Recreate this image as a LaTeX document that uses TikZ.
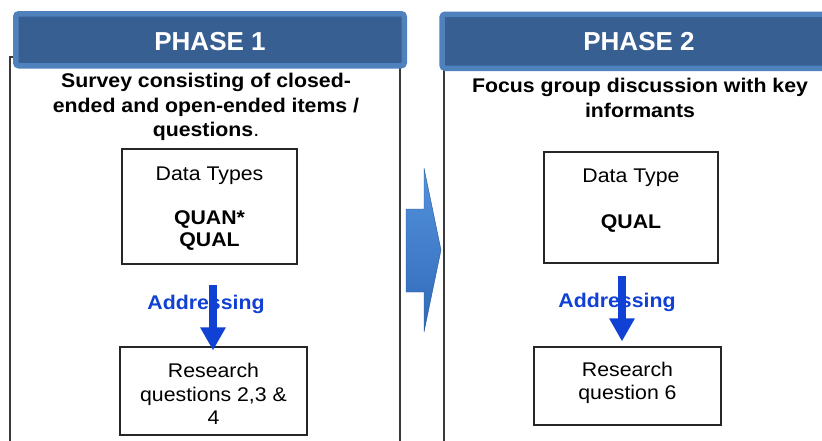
\documentclass[tikz,border=0pt]{standalone}
\usepackage{fontspec}
\setmainfont{Liberation Sans}[FakeStretch=1.075]
\newfontfamily\headfont{Liberation Sans}
\usetikzlibrary{arrows.meta}
\definecolor{hdrfill}{HTML}{375F92}
\definecolor{hdredge}{HTML}{4F81BD}
\definecolor{addrblue}{HTML}{1040D4}
\definecolor{panelline}{HTML}{3A3A3A}
\definecolor{arrowtop}{HTML}{5592DD}
\definecolor{arrowbot}{HTML}{2F6AB8}
\begin{document}
\begin{tikzpicture}[x=1pt,y=-1pt,
  panel/.style={draw=panelline,line width=1.3pt},
  header/.style={draw=hdredge,fill=hdrfill,line width=5.5pt,rounded corners=3pt,inner sep=0pt},
  headtext/.style={text=white,inner sep=0pt,font=\headfont\bfseries\fontsize{26}{30}\selectfont},
  title/.style={align=center,inner sep=0pt,font=\bfseries\fontsize{19.8}{24.5}\selectfont},
  databox/.style={draw=black!85,line width=1.1pt,inner sep=0pt},
  boxtext/.style={align=center,inner sep=0pt,font=\fontsize{19.8}{22}\selectfont},
  rqtext/.style={align=center,inner sep=0pt,font=\fontsize{19.8}{23.5}\selectfont},
  addrlabel/.style={text=addrblue,inner sep=0pt,font=\bfseries\fontsize{19.8}{22}\selectfont},
  addr/.style={draw=addrblue,line width=8pt,-{Triangle[width=24pt,length=23pt]}}
]
\useasboundingbox (0,0) rectangle (822,440);
\clip (0,0) rectangle (822,440);

% panel frames
\draw[panel] (10,57) rectangle (400,460);
\draw[panel] (444,60) rectangle (840,460);

% phase headers
\node[header,minimum width=388.5pt,minimum height=52pt] (h1) at (210,39.75) {};
\node[headtext] (h1t) at (210,41.5) {PHASE 1};
\node[header,minimum width=407.75pt,minimum height=54pt] (h2) at (646,41.25) {};
\node[headtext] (h2t) at (639,41.5) {PHASE 2};

% phase descriptions
\node[title] (t1) at (206,107) {Survey consisting of closed-\\ended and open-ended items /\\questions\mdseries.};
\node[title] (t2) at (640,98) {Focus group discussion with key\\informants};

% data type boxes
\node[databox,minimum width=175pt,minimum height=115pt] (dt1) at (209.5,206.5) {};
\node[boxtext] (dt1t) at (209.5,209) {Data Types\\[22pt]\textbf{QUAN*}\\\textbf{QUAL}};
\node[databox,minimum width=174pt,minimum height=111pt] (dt2) at (631,207.5) {};
\node[boxtext] (dt2t) at (631,201) {Data Type\\[24pt]\textbf{QUAL}};

% research question boxes
\node[databox,minimum width=187pt,minimum height=88pt] (rq1) at (213.5,391) {};
\node[rqtext] (rq1t) at (213.5,394) {Research\\questions 2,3 \&\\4};
\node[databox,minimum width=187pt,minimum height=78pt] (rq2) at (627.5,386) {};
\node[rqtext] (rq2t) at (627.5,383) {Research\\question 6};

% addressing links
\node[addrlabel] (ad1) at (206,304) {Addressing};
\node[addrlabel] (ad2) at (617,302) {Addressing};
\coordinate (a1s) at (213,285);
\coordinate (a2s) at (622,276);
\draw[addr,shorten >=-4pt] (a1s) -- (a1s |- rq1.north);
\draw[addr,shorten >=5pt] (a2s) -- (a2s |- rq2.north);

% transition arrow between the phases
\path[top color=arrowtop,bottom color=arrowbot,draw=arrowbot!80!black,line width=0.4pt,line join=round]
  (406,209) -- (424,209) -- (424,168) -- (441,250) -- (424,332) -- (424,292) -- (406,292) -- cycle;
\end{tikzpicture}
\end{document}
